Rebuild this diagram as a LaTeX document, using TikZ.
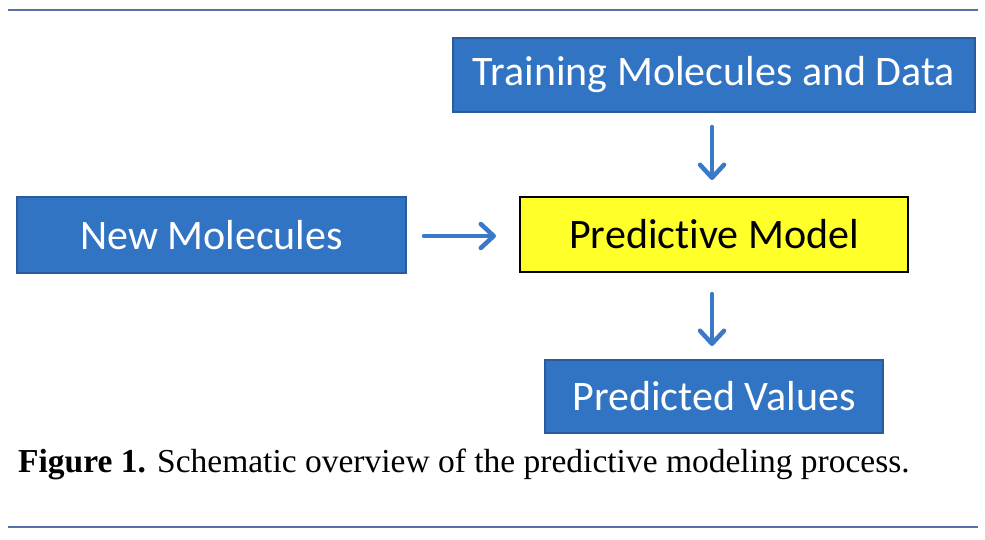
\documentclass[tikz,border=0pt]{standalone}
\usepackage{fontspec}
\setmainfont{Liberation Serif}
\newfontfamily\boxfont[Ligatures=NoCommon]{Carlito}
\usetikzlibrary{arrows.meta}
\definecolor{boxblue}{HTML}{3274C4}
\definecolor{boxedge}{HTML}{2A5C9C}
\definecolor{arrowblue}{HTML}{3A78C8}
\definecolor{rulecol}{HTML}{5A6EA8}
\definecolor{modelyellow}{HTML}{FFFF2A}
\begin{document}
\begin{tikzpicture}[x=1pt,y=-1pt,
  bluebox/.style={draw=boxedge,line width=1.5pt,fill=boxblue,text=white,font=\boxfont\fontsize{42}{48}\selectfont,inner sep=0pt},
  yelbox/.style={draw=black,line width=1.5pt,fill=modelyellow,text=black,font=\boxfont\fontsize{42}{48}\selectfont,inner sep=0pt},
  flow/.style={draw=arrowblue,line width=4.5pt,line cap=round,-{Straight Barb[length=13pt,width=24pt,line width=4.5pt,round]}}]
\useasboundingbox (0,0) rectangle (985,540);
\draw[rulecol,line width=1.5pt] (8,10) -- (978,10);
\draw[rulecol,line width=1.5pt] (8,527) -- (978,527);
\node[bluebox,minimum width=522pt,minimum height=74pt] (train) at (714,75) {Training Molecules and Data};
\node[bluebox,minimum width=389pt,minimum height=76pt] (new) at (211.5,235) {New Molecules};
\node[yelbox,minimum width=388pt,minimum height=75pt] (model) at (714,234.5) {Predictive Model};
\node[bluebox,minimum width=338pt,minimum height=73pt] (pred) at (714,396.5) {Predicted Values};
\coordinate (a1s) at (712,127); \coordinate (a1e) at (712,180);
\coordinate (a2s) at (424,236); \coordinate (a2e) at (496,236);
\coordinate (a3s) at (712,294); \coordinate (a3e) at (712,346);
\draw[flow] (a1s) -- (a1e);
\draw[flow] (a2s) -- (a2e);
\draw[flow] (a3s) -- (a3e);
\node[anchor=base west,inner sep=0pt,font=\fontsize{33.5}{38}\selectfont] (cap) at (18,472) {\textbf{Figure 1.} Schematic overview of the predictive modeling process.};
\end{tikzpicture}
\end{document}
